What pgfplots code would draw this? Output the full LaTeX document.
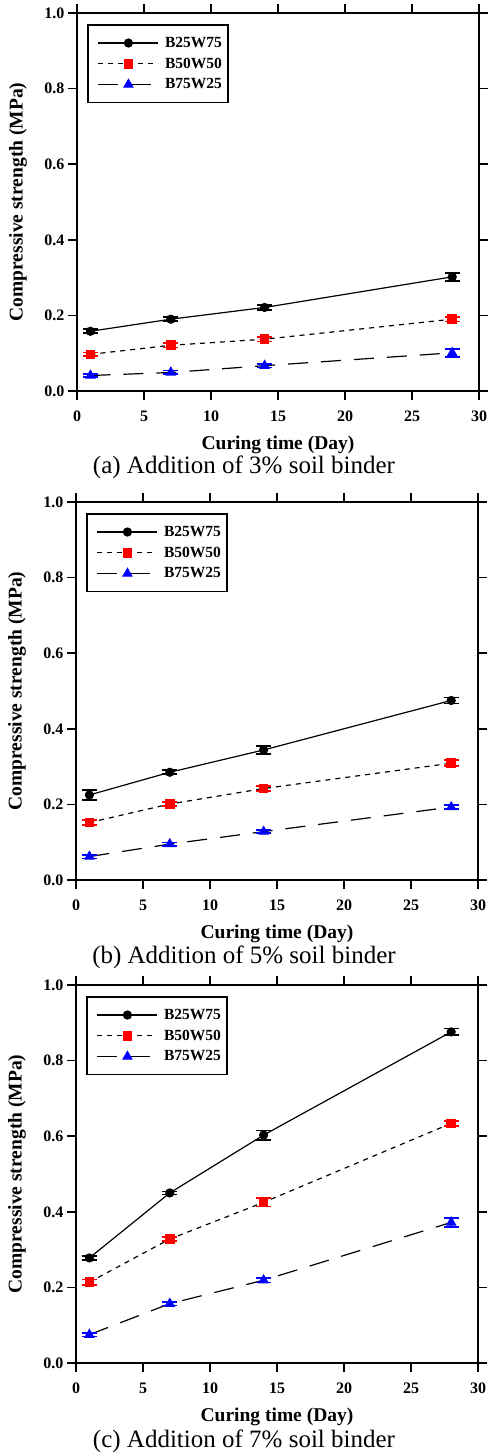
\documentclass[border=0pt]{standalone}
\usepackage{fontspec}
\setmainfont{Liberation Serif}
\usepackage{pgfplots}
\pgfplotsset{compat=1.18}
\pgfplotsset{
  panel/.style={
    scale only axis, width=402pt, height=378pt,
    anchor=south west,
    xmin=0, xmax=30, ymin=0, ymax=1,
    xtick={0,5,10,15,20,25,30}, ytick={0,0.2,0.4,0.6,0.8,1.0},
    tick align=outside, major tick length=9pt,
    axis line style={line width=1.6pt},
    major tick style={line width=1.6pt, black},
    /pgf/number format/assume math mode=true,
    ticklabel style={font=\fontsize{16}{16}\selectfont\bfseries},
    xticklabel style={yshift=-7pt},
    yticklabel style={/pgf/number format/fixed, /pgf/number format/fixed zerofill, /pgf/number format/precision=1},
    xlabel={Curing time (Day)}, ylabel={Compressive strength (MPa)},
    label style={font=\fontsize{19.5}{20}\selectfont\bfseries},
    xlabel style={at={(axis description cs:0.5,0)}, anchor=center, yshift=-54pt},
    ylabel style={at={(axis description cs:0,0.5)}, anchor=center, rotate=0, yshift=59pt},
    legend style={at={(0.025,0.97)}, anchor=north west, draw=black, line width=1.6pt,
      font=\fontsize{15.5}{16}\selectfont\bfseries, inner xsep=4pt, inner ysep=10pt, row sep=5pt},
    legend cell align=left,
    legend image code/.code={\path (-6pt,0pt) (64pt,0pt);\draw[mark repeat=2,mark phase=2] plot coordinates {(0pt,0pt) (30pt,0pt) (60pt,0pt)};},
  },
  s1/.style={black, solid, line width=1.2pt, mark=*, mark size=4pt, mark options={solid, fill=black},
    error bars/.cd, y dir=both, y explicit,
    error bar style={line width=1.5pt, solid, black},
    error mark options={rotate=90, mark size=7.5pt, line width=1.8pt, black}},
  s2/.style={black, line width=1.2pt, dash pattern=on 5pt off 5pt, mark=square*, mark size=4.2pt, mark options={solid, draw=red, fill=red},
    error bars/.cd, y dir=both, y explicit,
    error bar style={line width=1.5pt, solid, red},
    error mark options={rotate=90, mark size=7.5pt, line width=1.8pt, red}},
  s3/.style={black, line width=1.2pt, dash pattern=on 20pt off 13pt, mark=triangle*, mark size=5pt, mark options={solid, draw=blue, fill=blue},
    error bars/.cd, y dir=both, y explicit,
    error bar style={line width=1.5pt, solid, blue},
    error mark options={rotate=90, mark size=7.5pt, line width=1.8pt, blue}},
}
\begin{document}
\begin{tikzpicture}
\useasboundingbox (0,0) rectangle (489pt,-1456pt);
% Panel (a)
\begin{axis}[panel, at={(77pt,-391pt)}]
\addplot[s1] coordinates {(1,0.158) +- (0,0.005) (7,0.190) +- (0,0.005) (14,0.221) +- (0,0.006) (28,0.302) +- (0,0.011)};
\addlegendentry{B25W75}
\addplot[s2] coordinates {(1,0.097) +- (0,0.005) (7,0.121) +- (0,0.006) (14,0.137) +- (0,0.006) (28,0.190) +- (0,0.006)};
\addlegendentry{B50W50}
\addplot[s3] coordinates {(1,0.041) +- (0,0.004) (7,0.049) +- (0,0.005) (14,0.067) +- (0,0.005) (28,0.101) +- (0,0.011)};
\addlegendentry{B75W25}
\end{axis}
\node at (244pt,-467pt) {\fontsize{25}{25}\selectfont (a) Addition of 3\% soil binder};
% Panel (b)
\begin{axis}[panel, at={(76pt,-880pt)}]
\addplot[s1] coordinates {(1,0.225) +- (0,0.013) (7,0.285) +- (0,0.005) (14,0.344) +- (0,0.010) (28,0.475) +- (0,0.008)};
\addlegendentry{B25W75}
\addplot[s2] coordinates {(1,0.152) +- (0,0.006) (7,0.201) +- (0,0.005) (14,0.242) +- (0,0.006) (28,0.309) +- (0,0.008)};
\addlegendentry{B50W50}
\addplot[s3] coordinates {(1,0.062) +- (0,0.005) (7,0.095) +- (0,0.004) (14,0.128) +- (0,0.004) (28,0.193) +- (0,0.005)};
\addlegendentry{B75W25}
\end{axis}
\node at (244pt,-957pt) {\fontsize{25}{25}\selectfont (b) Addition of 5\% soil binder};
% Panel (c)
\begin{axis}[panel, at={(76pt,-1363pt)}]
\addplot[s1] coordinates {(1,0.278) +- (0,0.005) (7,0.450) +- (0,0.004) (14,0.603) +- (0,0.012) (28,0.876) +- (0,0.009)};
\addlegendentry{B25W75}
\addplot[s2] coordinates {(1,0.214) +- (0,0.007) (7,0.328) +- (0,0.006) (14,0.425) +- (0,0.011) (28,0.634) +- (0,0.007)};
\addlegendentry{B50W50}
\addplot[s3] coordinates {(1,0.075) +- (0,0.005) (7,0.157) +- (0,0.005) (14,0.219) +- (0,0.006) (28,0.372) +- (0,0.012)};
\addlegendentry{B75W25}
\end{axis}
\node at (244pt,-1441pt) {\fontsize{25}{25}\selectfont (c) Addition of 7\% soil binder};
\end{tikzpicture}
\end{document}
